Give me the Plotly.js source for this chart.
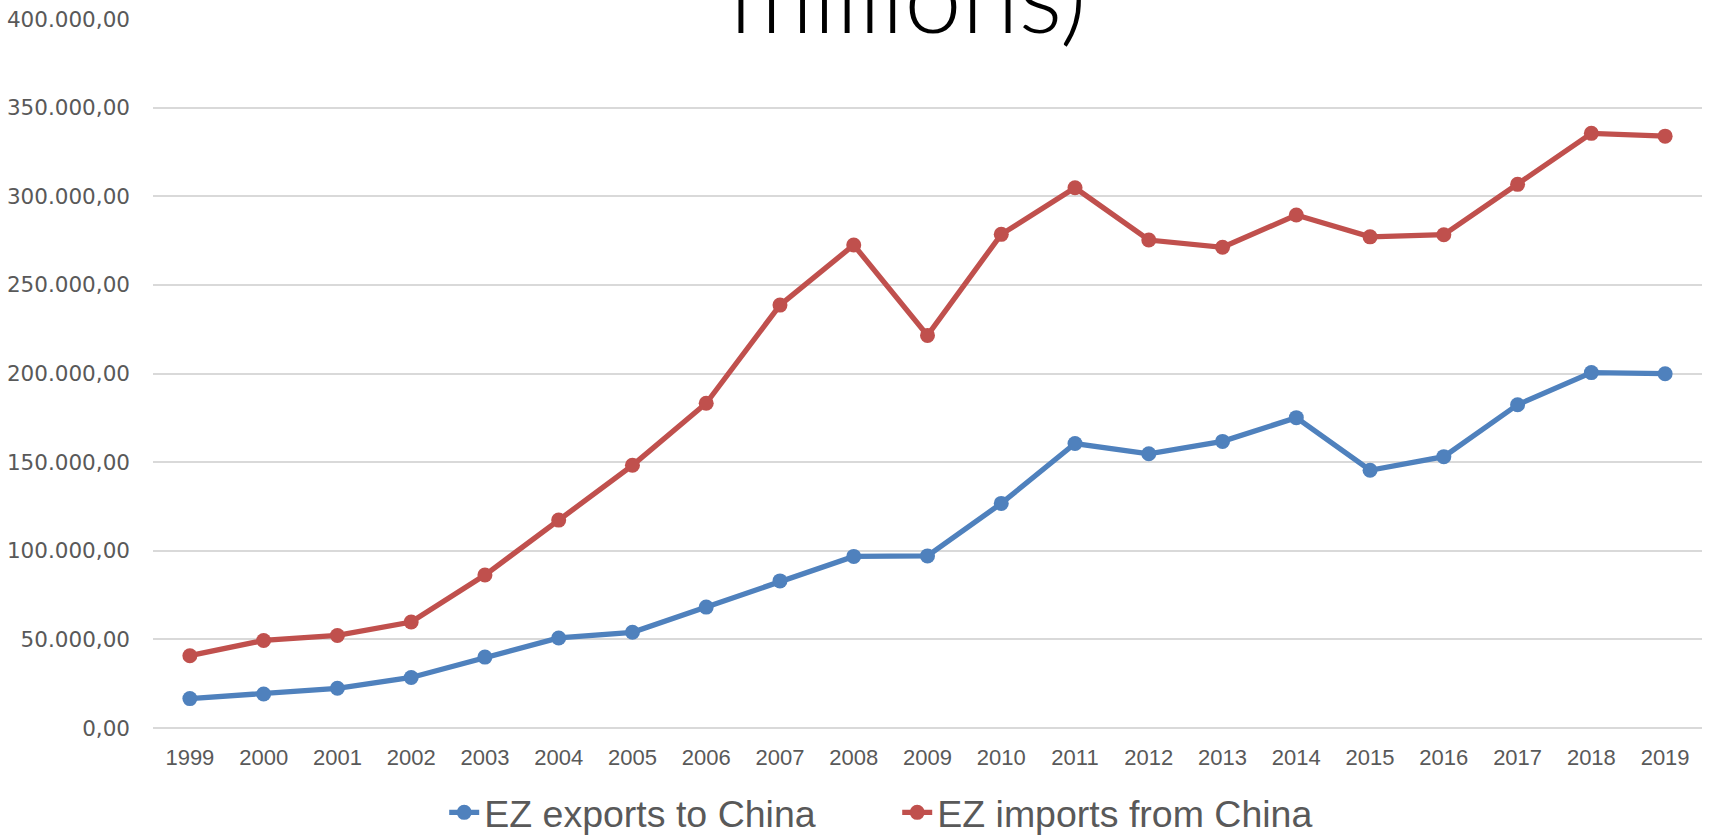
<!DOCTYPE html>
<html>
<head>
<meta charset="utf-8">
<script src="https://cdn.plot.ly/plotly-3.0.1.min.js"></script>
<style>html,body{margin:0;padding:0;background:#fff;overflow:hidden}#chart{width:1717px;height:835px}</style>
</head>
<body>
<div id="chart"></div>
<script>
const years = ['1999','2000','2001','2002','2003','2004','2005','2006','2007','2008','2009','2010','2011','2012','2013','2014','2015','2016','2017','2018','2019'];
const exportsToChina = [16600, 19200, 22400, 28500, 40000, 50800, 54000, 68200, 83000, 96800, 97100, 126700, 160500, 154700, 161700, 175100, 145400, 153100, 182400, 200500, 199900];
const importsFromChina = [40800, 49400, 52200, 59800, 86300, 117300, 148200, 183200, 238600, 272500, 221500, 278500, 304800, 275300, 271200, 289400, 277100, 278300, 306700, 335500, 333900];
const yTicks = [0, 50000, 100000, 150000, 200000, 250000, 300000, 350000, 400000];
const seriesNames = ['EZ exports to China', 'EZ imports from China'];
const titleText = 'millions)';

const blue = '#4F81BD', red = '#C0504D';
const traces = [
  {x: years, y: exportsToChina, name: seriesNames[0], type: 'scatter', mode: 'lines+markers',
   line: {color: blue, width: 5.3}, marker: {color: blue, size: 15}},
  {x: years, y: importsFromChina, name: seriesNames[1], type: 'scatter', mode: 'lines+markers',
   line: {color: red, width: 5.3}, marker: {color: red, size: 15}}
];
const layout = {
  width: 1717, height: 835,
  margin: {l: 153, r: 15, t: 19, b: 107},
  paper_bgcolor: '#fff', plot_bgcolor: '#fff',
  separators: ',.',
  showlegend: true,
  xaxis: {type: 'category', range: [-0.5, 20.5], showgrid: false, zeroline: false, showline: false,
          ticks: '', tickfont: {family: 'Liberation Sans, Arial', size: 22, color: '#595959'},
          ticklabelstandoff: 14},
  yaxis: {range: [0, 400000], tickvals: yTicks, tickformat: ',.2f', showgrid: true,
          gridcolor: '#D9D9D9', gridwidth: 2, zeroline: true, zerolinecolor: '#D9D9D9', zerolinewidth: 2,
          showline: false, ticks: '', ticklabelstandoff: 22,
          tickfont: {family: 'DejaVu Sans, Liberation Sans', size: 21.5, color: '#595959'}},
  legend: {orientation: 'h', x: 0.188, xanchor: 'left', yref: 'container', y: 0.027, yanchor: 'middle',
           entrywidth: 408, entrywidthmode: 'pixels',
           font: {family: 'Liberation Sans, Arial', size: 37.5, color: '#595959'}},
  annotations: [{text: titleText, xref: 'paper', yref: 'paper', x: 0.488, y: 1.0366,
                 xanchor: 'center', yanchor: 'middle', showarrow: false,
                 font: {family: 'Lato, Open Sans', size: 103, color: '#000', weight: 300}}]
};
Plotly.newPlot('chart', traces, layout, {displayModeBar: false, staticPlot: true});
</script>
</body>
</html>
